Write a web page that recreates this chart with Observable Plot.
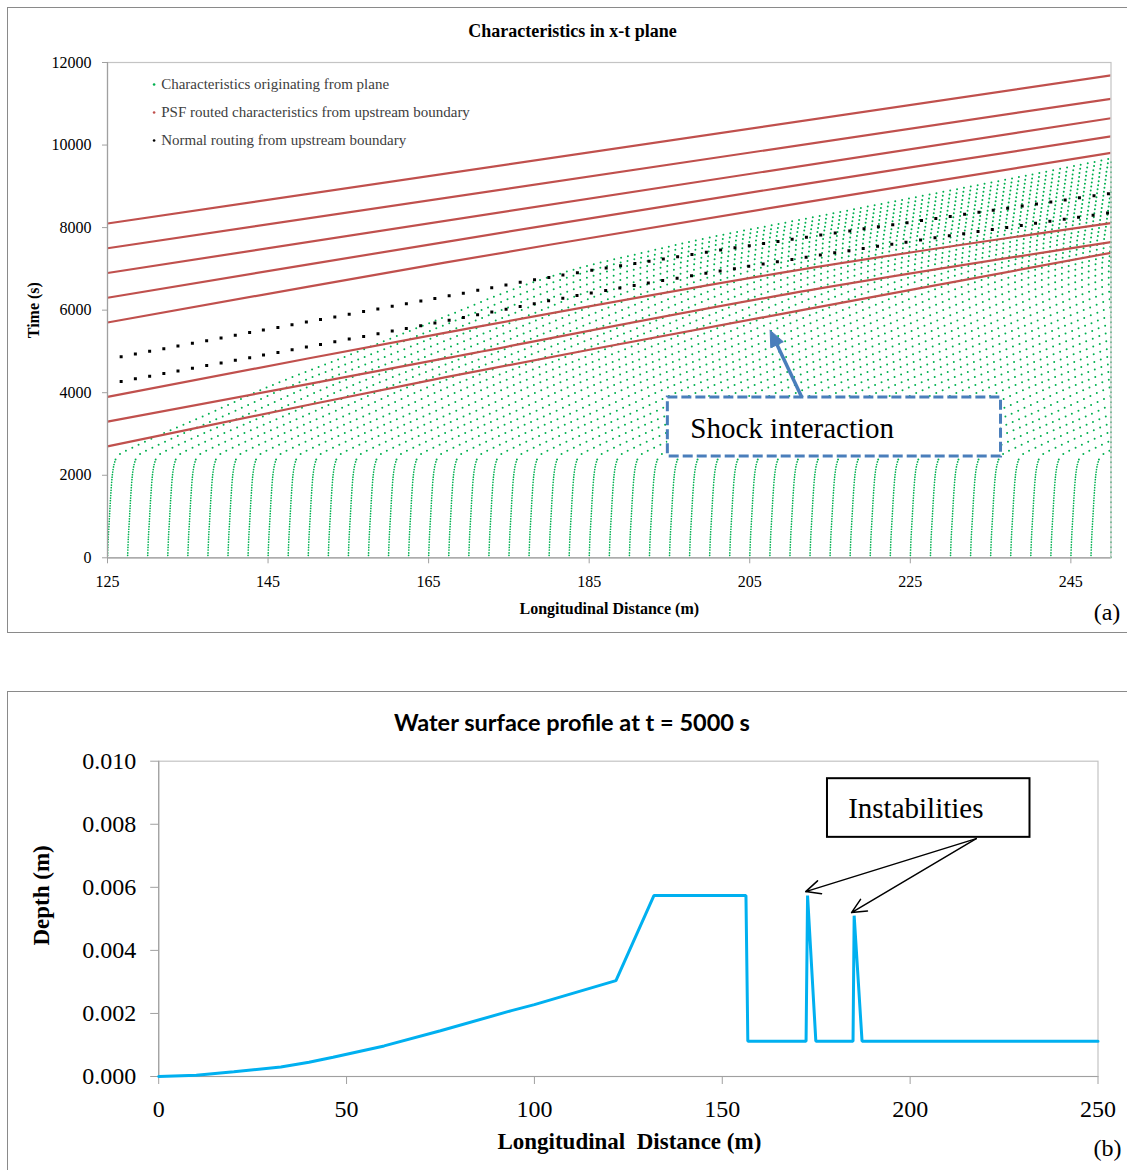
<!DOCTYPE html>
<html><head><meta charset="utf-8">
<script src="https://cdn.jsdelivr.net/npm/d3@7"></script>
<script src="https://cdn.jsdelivr.net/npm/@observablehq/plot@0.6"></script>
<style>
html,body{margin:0;padding:0;background:#fff;}
body{width:1127px;height:1170px;position:relative;overflow:hidden;}
.panel{position:absolute;border:1.5px solid #8a8a8a;box-sizing:border-box;}
.chart{position:absolute;left:0;}
.chart svg text{font-family:"Liberation Serif","Times New Roman",serif;}
.chart svg text.sans{font-family:Lato,"Open Sans",sans-serif;}
</style></head><body>
<div class="panel" style="left:7px;top:7px;width:1135px;height:626px"></div>
<div class="panel" style="left:7px;top:691px;width:1135px;height:500px"></div>
<div id="a" class="chart" style="top:0"></div>
<div id="b" class="chart" style="top:680px"></div>
<script>
// ---------- Panel (a): characteristics in x-t plane ----------
const xTicksA = [125,145,165,185,205,225,245];
const yTicksA = [0,2000,4000,6000,8000,10000,12000];
const legendItems = ["Characteristics originating from plane","PSF routed characteristics from upstream boundary","Normal routing from upstream boundary"];
const legendColors = ["#00b050","#c0504d","#000000"];

// starting positions of characteristics originating from the plane (m)
const greenStarts = [125,127.5,130,132.5,135,137.5,140,142.5,145,147.5,150,152.5,155,157.5,160,162.5,165,167.5,170,172.5,175,177.5,180,182.5,185,187.5,190,192.5,195,197.5,200,202.5,205,207.5,210,212.5,215,217.5,220,222.5,225,227.5,230,232.5,235,237.5,240,242.5,245,247.5,250];
// shape of one plane characteristic (offset from start in m, time in s)
const riseDx = [0,0.1,0.25,0.4,0.6,0.8,1.0];
const riseT  = [0,500,1000,1500,2000,2250,2380];
const runDx  = [1.0,1.6,2.5,4.1,7.5,11.7,20,28.4,36.8,43,50.2,58.5,66.9,75,85,95,105,115,125];
const runT   = [2380,2520,2610,2760,3060,3410,4140,4780,5430,5915,6480,7006,7400,7760,8140,8520,8900,9280,9673];
const edgeTop = 9673;

// PSF routed characteristics from upstream boundary [x, t]
const psfLines = [
  [[125,8100],[250,11690]],
  [[125,7500],[250,11120]],
  [[125,6900],[250,10650]],
  [[125,6300],[167,7650],[209,8970],[250,10210]],
  [[125,5700],[167,7150],[209,8520],[250,9810]],
  [[125,3900],[167,5450],[210,6940],[250,8110]],
  [[125,3300],[167,4830],[210,6400],[250,7650]],
  [[125,2700],[167,4370],[210,5945],[250,7390]]
];
// Normal routing from upstream boundary [x, t]
const normalLines = [
  [[126.7,4873],[143.1,5470],[168,6364],[176.6,6680],[191.8,7166],[208,7651],[226.9,8185],[250,8831]],
  [[126.7,4274],[143.1,4863],[168,5770],[184.3,6383],[208.2,7166],[226.6,7709],[250,8364]]
];
// callout "Shock interaction"
const shockBox = {x1:194.8, x2:236.3, y1:2456, y2:3886};
const shockLabel = {x:197.6, y:3127, text:"Shock interaction"};
const shockShaft = {x1:211.5, y1:3886, x2:208.4, y2:5162};
const shockHead = [[207.54,5510],[209.18,5234],[207.62,5088],[207.54,5510]];

const riseData = greenStarts.flatMap((x0,i)=>riseDx.map((dx,j)=>({id:i, x:x0+dx, t:riseT[j]})));
const runData  = greenStarts.flatMap((x0,i)=>runDx.map((dx,j)=>({id:i, x:x0+dx, t:runT[j]})));
const psfData = psfLines.flatMap((pts,i)=>pts.map(([x,t])=>({id:i,x,t})));
const normData = normalLines.flatMap((pts,i)=>pts.map(([x,t])=>({id:i,x,t})));

const serif = '"Liberation Serif","Times New Roman",serif';

const legendMarks = legendItems.flatMap((label,i)=>[
  Plot.dot([0],{frameAnchor:"top-left", dx:46.6, dy:22+28*i, r:1.3, fill:legendColors[i], stroke:"none"}),
  Plot.text([label],{frameAnchor:"top-left", dx:53.7, dy:22+28*i, text:d=>d, textAnchor:"start", lineAnchor:"middle", fontSize:15, fontFamily:serif, fill:"#404040"})
]);

const chartA = Plot.plot({
  width:1127, height:640,
  marginLeft:107, marginRight:16.5, marginTop:62, marginBottom:82.7,
  x:{domain:[125,250]},
  y:{domain:[0,12000]},
  style:{fontFamily:serif, fontSize:"16px", color:"#000", background:"transparent", overflow:"visible"},
  marks:[
    Plot.line(riseData,{x:"x", y:"t", z:"id", stroke:"#00b050", strokeWidth:1.7, strokeDasharray:"0 2.6", strokeLinecap:"round", curve:"catmull-rom", clip:true}),
    Plot.line(runData,{x:"x", y:"t", z:"id", stroke:"#00b050", strokeWidth:2, strokeDasharray:"0 7", strokeLinecap:"round", curve:"catmull-rom", clip:true}),
    Plot.ruleX([250],{y1:0, y2:edgeTop, stroke:"#00b050", strokeWidth:2, strokeDasharray:"0 5", strokeLinecap:"round"}),
    Plot.line(psfData,{x:"x", y:"t", z:"id", stroke:"#c0504d", strokeWidth:2.2, curve:"catmull-rom", clip:true}),
    Plot.line(normData,{x:"x", y:"t", z:"id", stroke:"#000", strokeWidth:3, strokeDasharray:"0 14.5", strokeLinecap:"square", curve:"catmull-rom", clip:true}),
    Plot.frame({stroke:"#c4c4c4", strokeWidth:1.2}),
    Plot.ruleX([125],{stroke:"#a0a0a0", strokeWidth:1.2}),
    Plot.ruleY([0],{stroke:"#a0a0a0", strokeWidth:1.2}),
    Plot.axisY({ticks:yTicksA, tickFormat:"d", tickSize:5, tickPadding:11, stroke:"#a0a0a0", fontSize:16, fontFamily:serif, fill:"#000", label:null}),
    Plot.axisX({ticks:xTicksA, tickFormat:"d", tickSize:6, tickPadding:12, stroke:"#a0a0a0", fontSize:16, fontFamily:serif, fill:"#000", label:null}),
    ...legendMarks,
    Plot.rect([shockBox],{x1:"x1", x2:"x2", y1:"y1", y2:"y2", fill:"#fff", stroke:"#4a7ebb", strokeWidth:3, strokeDasharray:"10 4"}),
    Plot.text([shockLabel],{x:"x", y:"y", text:"text", textAnchor:"start", lineAnchor:"middle", fontSize:29, fontFamily:serif, fill:"#000"}),
    Plot.link([shockShaft],{x1:"x1", y1:"y1", x2:"x2", y2:"y2", stroke:"#4a7ebb", strokeWidth:3.5}),
    Plot.line(shockHead,{x:d=>d[0], y:d=>d[1], fill:"#4a7ebb", stroke:"#4a7ebb", strokeWidth:1}),
    Plot.text(["Characteristics in x-t plane"],{frameAnchor:"top", dx:-36.7, dy:-31, text:d=>d, lineAnchor:"middle", fontWeight:"bold", fontSize:18, fontFamily:serif}),
    Plot.text(["Longitudinal Distance (m)"],{frameAnchor:"bottom", dx:0, dy:50.7, text:d=>d, lineAnchor:"middle", fontWeight:"bold", fontSize:16, fontFamily:serif}),
    Plot.text(["Time (s)"],{frameAnchor:"left", dx:-74, dy:0, rotate:-90, text:d=>d, textAnchor:"middle", lineAnchor:"middle", fontWeight:"bold", fontSize:16, fontFamily:serif}),
    Plot.text(["(a)"],{frameAnchor:"bottom-right", dx:-4, dy:54.4, text:d=>d, textAnchor:"middle", lineAnchor:"middle", fontSize:24, fontFamily:serif})
  ]
});
document.getElementById("a").appendChild(chartA);

// ---------- Panel (b): water surface profile ----------
const xTicksB = [0,50,100,150,200,250];
const yTicksB = [0,0.002,0.004,0.006,0.008,0.010];
const profileX     = [0,10,20,32.5,40,46.4,60,75,93.9,100,121.7,131.8,156.3,156.8,172.3,172.7,174.9,184.8,185.1,187.2,250];
const profileDepth = [0,0.00004,0.00015,0.0003,0.00045,0.00061,0.00097,0.00145,0.00209,0.00228,0.00304,0.00574,0.00574,0.00112,0.00112,0.00574,0.00112,0.00112,0.0051,0.00112,0.00112];
const instabBox = {x1:178.0, x2:231.9, y1:0.007585, y2:0.009445};
const instabLabel = {x:183.5, y:0.008494, text:"Instabilities"};
const instabArrows = [
  {x1:217.6, y1:0.007544, x2:172.2, y2:0.005864},
  {x1:217.6, y1:0.007544, x2:184.4, y2:0.005198}
];
const profile = profileX.map((x,i)=>({x, d:profileDepth[i]}));

const chartB = Plot.plot({
  width:1127, height:490,
  marginLeft:158.2, marginRight:29.5, marginTop:80.7, marginBottom:94,
  x:{domain:[0,250]},
  y:{domain:[0,0.010]},
  style:{fontFamily:serif, fontSize:"24px", color:"#000", background:"transparent", overflow:"visible"},
  marks:[
    Plot.frame({stroke:"#c4c4c4", strokeWidth:1.2}),
    Plot.ruleX([0],{stroke:"#a0a0a0", strokeWidth:1.2}),
    Plot.ruleY([0],{stroke:"#a0a0a0", strokeWidth:1.2}),
    Plot.axisY({ticks:yTicksB, tickFormat:".3f", tickSize:8, tickPadding:14.5, stroke:"#a0a0a0", fontSize:24, fontFamily:serif, fill:"#000", label:null}),
    Plot.axisX({ticks:xTicksB, tickFormat:"d", tickSize:8, tickPadding:15, stroke:"#a0a0a0", fontSize:24, fontFamily:serif, fill:"#000", label:null}),
    Plot.line(profile,{x:"x", y:"d", stroke:"#00b0f0", strokeWidth:3, strokeLinejoin:"miter"}),
    Plot.rect([instabBox],{x1:"x1", x2:"x2", y1:"y1", y2:"y2", fill:"#fff", stroke:"#000", strokeWidth:2}),
    Plot.text([instabLabel],{x:"x", y:"y", text:"text", textAnchor:"start", lineAnchor:"middle", fontSize:29, fontFamily:serif, fill:"#000"}),
    Plot.arrow(instabArrows,{x1:"x1", y1:"y1", x2:"x2", y2:"y2", stroke:"#000", strokeWidth:1.5, headLength:16, headAngle:50}),
    Plot.text(["Water surface profile at t = 5000 s"],{frameAnchor:"top", dx:-56.4, dy:-38, text:d=>d, lineAnchor:"middle", fontFamily:"Lato", fontWeight:"bold", fontSize:23.5, className:"sans"}),
    Plot.text(["Longitudinal  Distance (m)"],{frameAnchor:"bottom", dx:1, dy:65, text:d=>d, lineAnchor:"middle", fontWeight:"bold", fontSize:23, fontFamily:serif}),
    Plot.text(["Depth (m)"],{frameAnchor:"left", dx:-117.2, dy:-23.4, rotate:-90, text:d=>d, textAnchor:"middle", lineAnchor:"middle", fontWeight:"bold", fontSize:23, fontFamily:serif}),
    Plot.text(["(b)"],{frameAnchor:"bottom-right", dx:9.5, dy:72.3, text:d=>d, textAnchor:"middle", lineAnchor:"middle", fontSize:24, fontFamily:serif})
  ]
});
document.getElementById("b").appendChild(chartB);
// keep the panel-(b) title in the sans face
chartB.querySelectorAll("text").forEach(t=>{ if (t.textContent.startsWith("Water surface")) t.setAttribute("class","sans"); });
</script>
</body></html>
